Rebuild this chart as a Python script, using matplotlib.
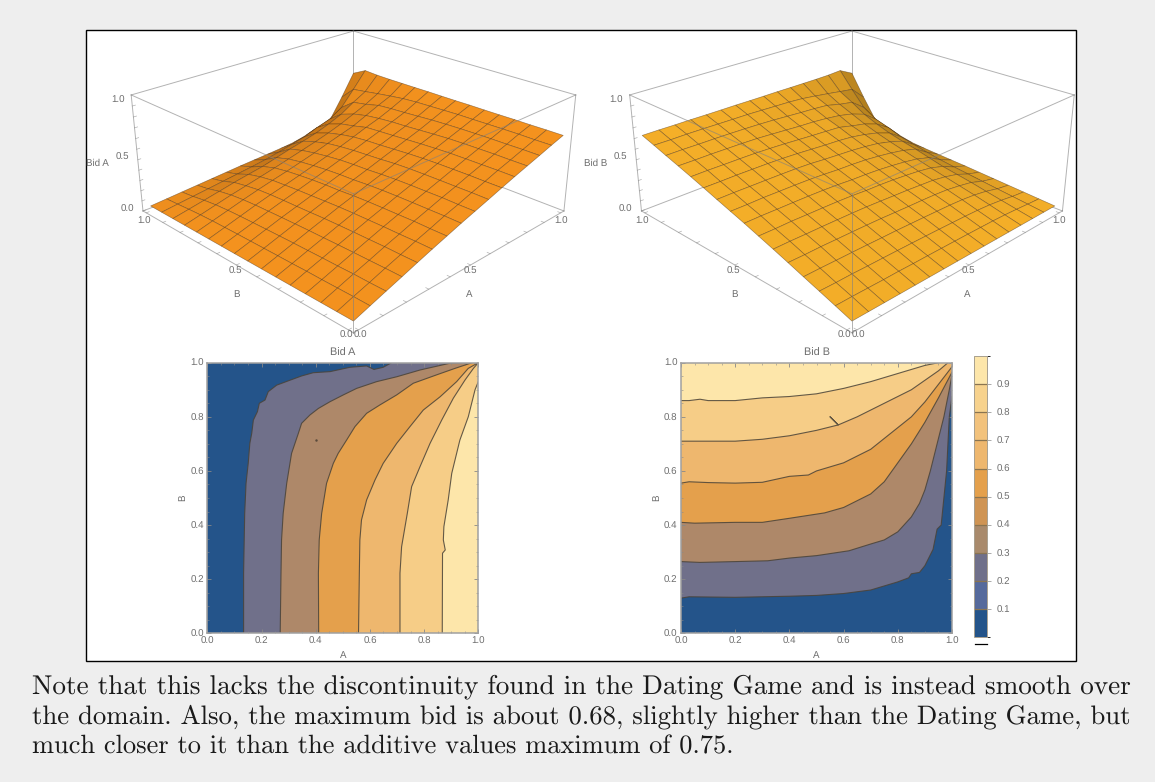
import numpy as np
import matplotlib
matplotlib.use('Agg')
import matplotlib.pyplot as plt
from matplotlib.colors import LightSource, ListedColormap, BoundaryNorm
from matplotlib.colorbar import Colorbar
from matplotlib.patches import Rectangle

W, H = 1155, 782
GRAY = '#6e6e6e'
LINE = '#808080'

# surface heights of Bid A, one row per B, one column per A
mesh_vals = [0, .067, .133, .2, .267, .333, .4, .467, .533, .6, .667, .733, .8, .867, .933, 1]
bid_a = [
 [0, .050, .099, .148, .198, .246, .293, .340, .383, .427, .472, .515, .557, .598, .640, .680],
 [0, .051, .098, .149, .197, .247, .292, .341, .382, .428, .471, .516, .556, .599, .639, .681],
 [0, .050, .100, .148, .199, .245, .294, .339, .384, .426, .472, .514, .557, .597, .641, .680],
 [0, .049, .098, .148, .197, .245, .291, .338, .381, .425, .470, .513, .555, .597, .640, .681],
 [0, .050, .098, .147, .196, .243, .289, .336, .379, .423, .468, .511, .553, .595, .638, .680],
 [0, .048, .097, .145, .194, .241, .286, .332, .375, .420, .463, .505, .549, .592, .636, .680],
 [0, .048, .096, .144, .191, .237, .280, .325, .367, .413, .455, .497, .540, .587, .635, .681],
 [0, .047, .094, .141, .185, .230, .270, .314, .356, .400, .444, .487, .530, .580, .630, .680],
 [0, .046, .092, .138, .180, .222, .265, .308, .350, .390, .433, .477, .520, .570, .625, .680],
 [0, .045, .089, .134, .176, .215, .256, .298, .340, .380, .425, .468, .513, .560, .620, .681],
 [0, .043, .086, .130, .170, .205, .243, .283, .323, .365, .410, .458, .500, .552, .610, .680],
 [0, .041, .081, .122, .160, .195, .228, .265, .302, .345, .385, .424, .482, .540, .592, .680],
 [0, .036, .072, .108, .140, .172, .205, .240, .275, .310, .350, .395, .450, .505, .572, .680],
 [0, .028, .056, .085, .115, .140, .165, .200, .235, .265, .300, .345, .400, .480, .550, .682],
 [0, .018, .035, .052, .070, .088, .105, .125, .150, .180, .210, .260, .300, .380, .530, .690],
 [0, .010, .020, .030, .040, .050, .060, .068, .076, .085, .097, .125, .155, .200, .400, .620],
]
bid_b = np.array(bid_a).T

# contour lines of the Bid A map: (A, B)
a_lines = [
 [(.134,0),(.134,.222),(.138,.443),(.143,.554),(.151,.628),(.157,.702),(.164,.739),(.170,.788),(.185,.819),(.192,.850),(.213,.862),(.225,.893),(.256,.917),(.299,.933),(.348,.951),(.391,.963),(.453,.967),(.526,.983),(.588,.988),(.615,.975),(.649,.983),(.680,1)],
 [(.269,0),(.272,.222),(.274,.345),(.280,.443),(.293,.554),(.311,.665),(.336,.739),(.348,.776),(.379,.807),(.410,.831),(.453,.856),(.502,.881),(.551,.905),(.625,.930),(.699,.948),(.785,.973),(.895,.998),(.957,1)],
 [(.411,0),(.410,.222),(.413,.345),(.422,.443),(.440,.554),(.465,.628),(.483,.665),(.514,.714),(.545,.764),(.588,.813),(.637,.844),(.699,.881),(.760,.924),(.846,.955),(.914,.979),(.977,1)],
 [(.558,0),(.561,.222),(.563,.345),(.569,.419),(.588,.493),(.619,.567),(.649,.628),(.699,.702),(.748,.764),(.797,.825),(.859,.874),(.920,.930),(.963,.979),(1,1)],
 [(.711,0),(.711,.222),(.717,.32),(.738,.443),(.754,.542),(.785,.616),(.822,.702),(.865,.788),(.908,.869),(.951,.936),(.982,.979),(1,1)],
 [(.867,0),(.868,.296),(.878,.308),(.871,.345),(.873,.394),(.889,.493),(.902,.591),(.932,.714),(.963,.8),(.988,.9),(1,.93)],
]
# contour lines of the Bid B map: (A, B)
b_lines = [
 [(0,.13),(.03,.135),(.2,.133),(.4,.137),(.5,.14),(.6,.147),(.7,.16),(.75,.175),(.8,.19),(.84,.205),(.85,.22),(.88,.225),(.9,.25),(.93,.31),(.945,.385),(.96,.4),(.97,.5),(.98,.6),(.985,.7),(.99,.8),(1,.875)],
 [(0,.265),(.07,.262),(.2,.265),(.32,.268),(.4,.278),(.5,.287),(.62,.305),(.7,.33),(.75,.345),(.8,.375),(.85,.43),(.88,.48),(.9,.53),(.92,.6),(.945,.7),(.97,.8),(.99,.9),(1,.955)],
 [(0,.41),(.05,.407),(.2,.41),(.3,.41),(.4,.425),(.53,.445),(.6,.465),(.7,.515),(.75,.56),(.8,.63),(.85,.7),(.9,.78),(.95,.87),(1,.965)],
 [(0,.555),(.03,.56),(.1,.557),(.2,.555),(.3,.558),(.4,.58),(.47,.585),(.5,.6),(.6,.63),(.7,.68),(.75,.72),(.8,.76),(.85,.8),(.9,.855),(.95,.92),(1,.985)],
 [(0,.71),(.07,.71),(.2,.71),(.3,.717),(.4,.73),(.5,.75),(.58,.77),(.55,.8),(.58,.77),(.65,.8),(.7,.825),(.75,.85),(.8,.875),(.85,.9),(.9,.935),(.95,.97),(.985,1)],
 [(0,.86),(.03,.86),(.07,.865),(.1,.86),(.2,.86),(.3,.87),(.4,.875),(.5,.885),(.6,.905),(.7,.93),(.8,.96),(.9,.99),(.95,1)],
]
band_colors = ['#24548a', '#70708a', '#ae8869', '#e4a04c', '#eeb76e', '#f6cd87', '#fde6aa']
bar_colors = ['#24548a', '#566a9c', '#70708a', '#a98a6c', '#cf9454', '#e4a04c', '#eeb76e', '#f2c27c', '#f7d28d', '#fde6aa']
bar_levels = [0, .1, .2, .3, .4, .5, .6, .7, .8, .9, 1]
tick_vals = [0, .2, .4, .6, .8, 1]
cap_lines = [
 'Note that this lacks the discontinuity found in the Dating Game and is instead smooth over',
 'the domain. Also, the maximum bid is about 0.68, slightly higher than the Dating Game, but',
 'much closer to it than the additive values maximum of 0.75.',
]
cap_sizes = [19.58, 19.27, 19.04]

plt.rcParams['font.family'] = ['Liberation Sans', 'DejaVu Sans']
plt.rcParams['text.hinting'] = 'none'
fig = plt.figure(figsize=(W / 100, H / 100), dpi=100, facecolor='#eeeeee')


def px_axes(x0, y0, x1, y1, **kw):
    return fig.add_axes([x0 / W, 1 - y1 / H, (x1 - x0) / W, (y1 - y0) / H], **kw)


def px_text(x, y, s, **kw):
    kw.setdefault('color', GRAY)
    kw.setdefault('fontsize', 7)
    kw.setdefault('ha', 'center')
    kw.setdefault('va', 'center')
    return fig.text(x / W, 1 - y / H, s, **kw)


panel = Rectangle((86 / W, 1 - 661 / H), 990 / W, 631 / H, transform=fig.transFigure,
                  facecolor='white', edgecolor='black', linewidth=1, zorder=-5)
fig.add_artist(panel)


def surface(cx, z, color, title):
    S = 700
    cy = 164
    ax = px_axes(cx - 9 - S / 2, cy - S / 2, cx - 9 + S / 2, cy + S / 2, projection='3d', computed_zorder=False)
    ax.patch.set_alpha(0)
    ax.set_axis_off()
    ax.set_proj_type('persp', focal_length=0.25)
    ax.view_init(elev=24, azim=-135)
    ax.set_box_aspect((1, 1, .415), zoom=.625)
    ax.set_xlim(-.02, 1.02)
    ax.set_ylim(-.02, 1.02)
    ax.set_zlim(-.05, 1.05)
    lo, hi, zl, zh = -.02, 1.02, -.05, 1.05

    def edge(p, q, zo, lw=.7):
        ln, = ax.plot(*zip(p, q), color=LINE, alpha=.6, lw=lw, zorder=zo)
        ln.set_clip_path(panel)
    # back edges sit behind the surface
    for p, q in [((lo, hi, zl), (hi, hi, zl)), ((hi, lo, zl), (hi, hi, zl)), ((hi, hi, zl), (hi, hi, zh)),
                 ((lo, hi, zh), (hi, hi, zh)), ((hi, lo, zh), (hi, hi, zh))]:
        edge(p, q, 1)
    X, Y = np.meshgrid(mesh_vals, mesh_vals)
    ax.plot_surface(X, Y, np.array(z), color=color, shade=True, lightsource=LightSource(azdeg=235, altdeg=55),
                    edgecolor=(.25, .15, .05, .5), linewidth=.45, rstride=1, cstride=1, zorder=2, antialiased=True)
    for p, q in [((lo, lo, zl), (hi, lo, zl)), ((lo, lo, zl), (lo, hi, zl)), ((lo, lo, zl), (lo, lo, zh)),
                 ((lo, lo, zh), (hi, lo, zh)), ((lo, lo, zh), (lo, hi, zh)),
                 ((hi, lo, zl), (hi, lo, zh)), ((lo, hi, zl), (lo, hi, zh))]:
        edge(p, q, 3)
    for t in np.arange(0, 1.01, .1):
        edge((t, lo, zl), (t, lo + .012, zl), 3, .5)
        edge((lo, t, zl), (lo + .012, t, zl), 3, .5)
        edge((lo, hi, zl + t), (lo + .012, hi, zl + t), 3, .5)

    # 3d tick labels, placed relative to the front corner
    for dx, dy, s in [(-235, -119, '1.0'), (-231, -62, '0.5'), (-226, -10, '0.0')]:
        px_text(cx + dx, 219 + dy, s)
    for dx, dy, s in [(-209, 221, '1.0'), (-118, 271, '0.5'), (-117, 294, 'B'),
                      (208, 221, '1.0'), (117, 271, '0.5'), (116, 294, 'A'),
                      (-7, 335, '0.0'), (7, 335, '0.0')]:
        px_text(cx + dx, dy, s)
    px_text(cx - 256, 163, title)
    return ax


surface(353, bid_a, '#f9951f', 'Bid A')
surface(851.5, bid_b, '#ffb62a', 'Bid B')


def contour_map(x0, lines, closing, title, spur=None):
    ax = px_axes(x0, 362.7, x0 + 271, 633.3)
    ax.set_facecolor(band_colors[-1])
    for i in range(len(lines) - 1, -1, -1):
        pts = np.array(lines[i])
        if closing == 'a':
            corners = [(0, 1), (0, 0)] if pts[-1, 1] == 1 else [(1, 1), (0, 1), (0, 0)]
        else:
            corners = [(1, 1), (1, 0), (0, 0)] if pts[-1, 0] < 1 else [(1, 0), (0, 0)]
        poly = np.vstack([pts, np.array(corners)])
        ax.fill(poly[:, 0], poly[:, 1], color=band_colors[i], lw=0)
        ax.plot(pts[:, 0], pts[:, 1], color='#4a4338', lw=.8, alpha=.85)
    if spur:
        ax.plot(*spur, '.', color='#5a4a3a', ms=1.5)
    ax.set_xlim(0, 1)
    ax.set_ylim(0, 1)
    ax.set_xticks(tick_vals)
    ax.set_yticks(tick_vals)
    ax.set_xticks(np.arange(0, 1.01, .05), minor=True)
    ax.set_yticks(np.arange(0, 1.01, .05), minor=True)
    ax.set_xticklabels(['%.1f' % v for v in tick_vals])
    ax.set_yticklabels(['%.1f' % v for v in tick_vals])
    ax.tick_params(which='major', direction='in', length=3, width=.6, color='#888888', labelcolor=GRAY, labelsize=7, pad=2.5, top=True, right=True)
    ax.tick_params(which='minor', direction='in', length=1.5, width=.4, color='#888888', top=True, right=True)
    for s in ax.spines.values():
        s.set_color('#a0a0a0')
        s.set_linewidth(1.1)
    ax.set_xlabel('A', fontsize=7, color=GRAY, labelpad=3)
    ax.set_ylabel('B', fontsize=7, color=GRAY, labelpad=2)
    ax.set_title(title, fontsize=7.8, color=GRAY, pad=5)
    return ax


contour_map(207.3, a_lines, 'a', 'Bid A', spur=(.4, .715))
contour_map(681, b_lines, 'b', 'Bid B')

cax = px_axes(974.3, 356, 986.7, 637.3)
cb = Colorbar(cax, cmap=ListedColormap(bar_colors), norm=BoundaryNorm(bar_levels, len(bar_colors)),
              boundaries=bar_levels, ticks=bar_levels[1:-1], spacing='proportional', drawedges=True)
cb.dividers.set_color('#8a7450')
cb.dividers.set_linewidth(.9)
cb.outline.set_edgecolor('#a8a090')
cb.outline.set_linewidth(.7)
cax.set_yticklabels(['%.1f' % v for v in bar_levels[1:-1]])
cax.tick_params(length=3, width=.5, color='#888888', labelcolor=GRAY, labelsize=7, pad=4)
fig.add_artist(plt.Line2D([975 / W, 987 / W], [1 - 643.5 / H] * 2, color='black', lw=.9))

for i, line in enumerate(cap_lines):
    fig.text(32 / W, 1 - (693.5 + 30 * i) / H, line, family='cmr10', fontsize=cap_sizes[i], color='#1a1a1a', ha='left', va='baseline')

fig.savefig('out.png', dpi=100, facecolor=fig.get_facecolor())
